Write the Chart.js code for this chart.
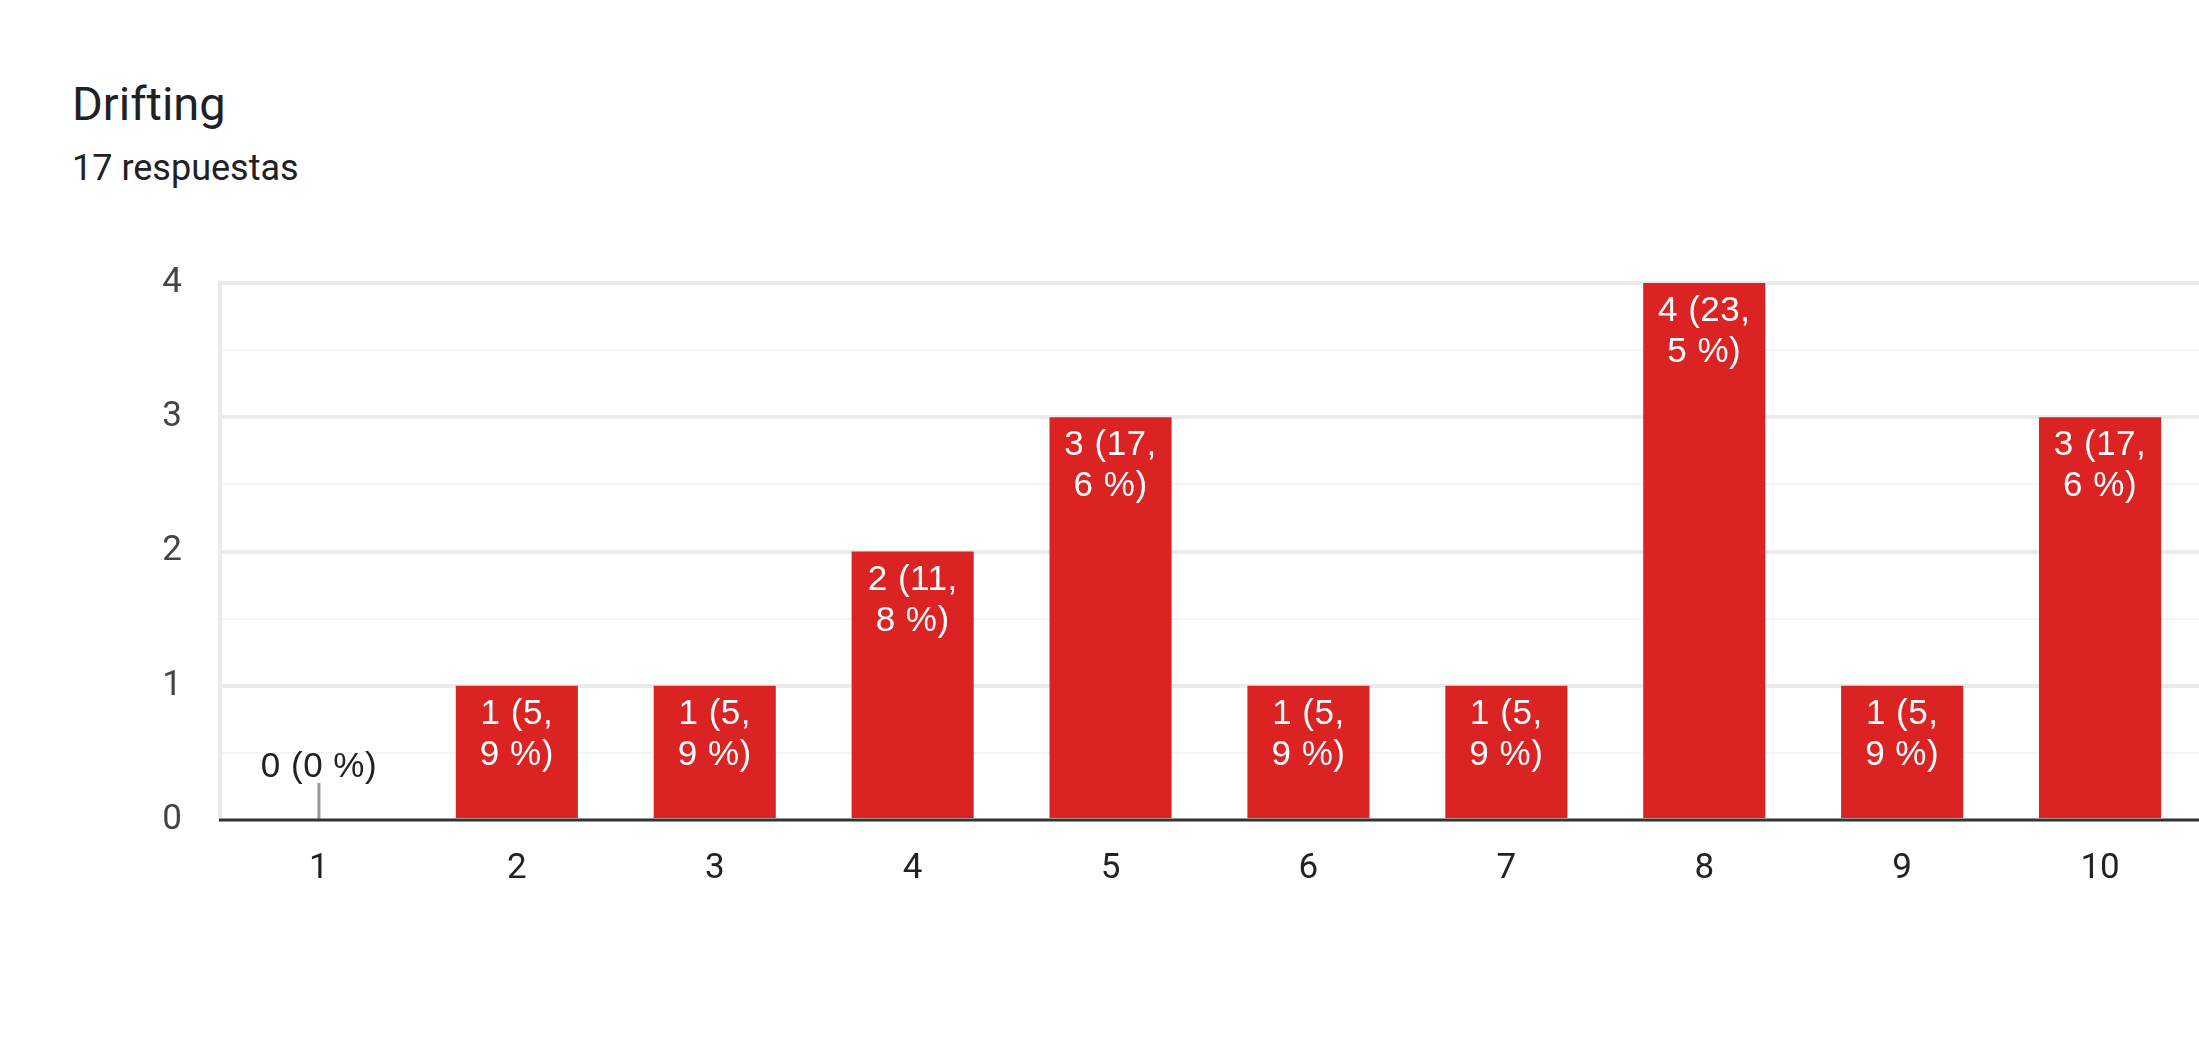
<!DOCTYPE html>
<html lang="es">
<head>
<meta charset="utf-8">
<title>Drifting</title>
<script src="https://cdn.jsdelivr.net/npm/chart.js@4.4.1/dist/chart.umd.min.js"></script>
<style>
    html, body { margin: 0; padding: 0; background: #ffffff; }
    body { width: 2199px; height: 1044px; position: relative; overflow: hidden; }
    .title { position: absolute; left: 72px; top: 80px; font: 47px/47px Roboto, sans-serif; color: #202124; }
    .subtitle { position: absolute; left: 72px; top: 150px; font: 36px/36px Roboto, sans-serif; color: #202124; }
    #chart { position: absolute; left: 0; top: 0; }
</style>
</head>
<body>
<div class="title">Drifting</div>
<div class="subtitle" id="subtitle"></div>
<canvas id="chart" width="2199" height="1044"></canvas>
<script>
// Datos
const categories = ['1', '2', '3', '4', '5', '6', '7', '8', '9', '10'];
const counts = [0, 1, 1, 2, 3, 1, 1, 4, 1, 3];
const yTicks = [0, 1, 2, 3, 4];

const total = counts.reduce((s, v) => s + v, 0);
document.getElementById('subtitle').textContent = total + ' respuestas';

function pctText(v) {
    if (v === 0) return '0';
    return (v / total * 100).toFixed(1).replace('.', ',');
}

// Etiquetas tipo Google Charts: dentro de la barra (blanco) o encima si es 0
const barLabels = {
    id: 'barLabels',
    afterDatasetsDraw(chart) {
        const ctx = chart.ctx;
        const area = chart.chartArea;
        const meta = chart.getDatasetMeta(0);
        ctx.save();
        ctx.font = '35px "Liberation Sans", Arial, sans-serif';
        ctx.textAlign = 'center';
        ctx.textBaseline = 'alphabetic';
        if ('letterSpacing' in ctx) ctx.letterSpacing = '0.5px';
        meta.data.forEach((bar, i) => {
            const v = counts[i];
            const pct = pctText(v);
            if (v === 0) {
                ctx.strokeStyle = '#999999';
                ctx.lineWidth = 3;
                ctx.beginPath();
                ctx.moveTo(bar.x, area.bottom);
                ctx.lineTo(bar.x, area.bottom - 37);
                ctx.stroke();
                ctx.fillStyle = '#222222';
                ctx.fillText(v + ' (' + pct + ' %)', bar.x, area.bottom - 43);
            } else {
                ctx.fillStyle = '#ffffff';
                ctx.fillText(v + ' (' + pct.split(',')[0] + ',', bar.x, bar.y + 38);
                ctx.fillText(pct.split(',')[1] + ' %)', bar.x, bar.y + 79);
            }
        });
        // línea base
        ctx.strokeStyle = '#333333';
        ctx.lineWidth = 3;
        ctx.beginPath();
        ctx.moveTo(area.left - 1, area.bottom);
        ctx.lineTo(area.right, area.bottom);
        ctx.stroke();
        ctx.restore();
    }
};

new Chart(document.getElementById('chart'), {
    type: 'bar',
    data: {
        labels: categories,
        datasets: [{
            data: counts,
            backgroundColor: '#db2323',
            borderWidth: 0,
            categoryPercentage: 1,
            barPercentage: 0.617
        }]
    },
    options: {
        responsive: false,
        animation: false,
        devicePixelRatio: 1,
        layout: { padding: { top: 283, left: 0, right: 0, bottom: 0 } },
        plugins: {
            legend: { display: false },
            tooltip: { enabled: false }
        },
        scales: {
            x: {
                grid: { display: false },
                border: { display: false },
                ticks: {
                    color: '#222222',
                    font: { family: 'Roboto, Arial, sans-serif', size: 35 },
                    padding: 20,
                    maxRotation: 0
                },
                afterFit(scale) { scale.height = 224; }
            },
            y: {
                min: 0,
                max: 4,
                afterBuildTicks(scale) {
                    // ticks cada 0,5; solo los enteros llevan texto
                    const t = [];
                    for (let k = 0; k <= yTicks[yTicks.length - 1] * 2; k++) t.push({ value: k / 2 });
                    scale.ticks = t;
                },
                ticks: {
                    color: '#444444',
                    font: { family: 'Roboto, Arial, sans-serif', size: 35 },
                    padding: 38,
                    callback: (v) => (yTicks.includes(v) ? String(v) : '')
                },
                grid: {
                    drawTicks: false,
                    color: (c) => (c.tick.value === 0 ? 'rgba(0,0,0,0)' : (c.tick.value % 1 === 0 ? '#ebebeb' : '#f5f5f5')),
                    lineWidth: (c) => (c.tick.value % 1 === 0 ? 4 : 2)
                },
                border: { color: '#ebebeb', width: 4 },
                afterFit(scale) { scale.width = 220; }
            }
        }
    },
    plugins: [barLabels]
});
</script>
</body>
</html>
